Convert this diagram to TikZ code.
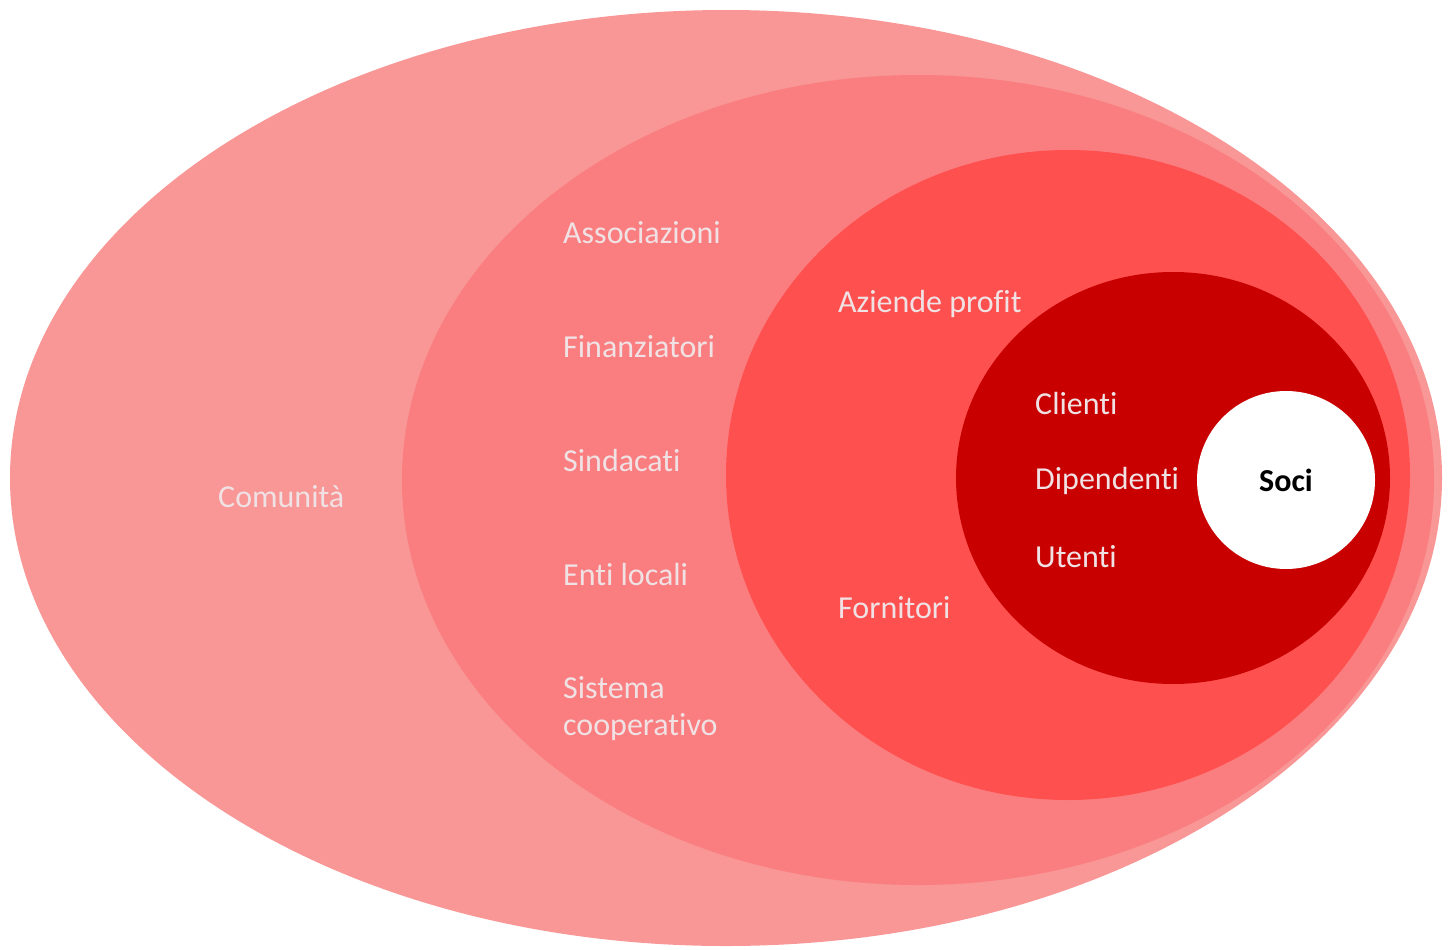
\documentclass[tikz,border=0pt]{standalone}
\usepackage{fontspec}
\setmainfont[Ligatures=NoCommon]{Carlito}
\usetikzlibrary{positioning}

\definecolor{comunita}{RGB}{249,150,150}
\definecolor{secondo}{RGB}{250,126,128}
\definecolor{terzo}{RGB}{255,80,80}
\definecolor{interno}{RGB}{200,0,0}
\definecolor{testo}{RGB}{240,226,228}

\begin{document}
\begin{tikzpicture}[x=1pt,y=-1pt,node distance=114pt]
  \tikzstyle{every node}=[font=\fontsize{32}{37}\selectfont]
  \tikzstyle{voce}=[anchor=west, inner sep=0pt, text=testo, align=left]

  \useasboundingbox (0,0) rectangle (1456,950);

  \fill[comunita] (726,478) ellipse [x radius=716pt, y radius=468pt];
  \fill[secondo]  (918,480) ellipse [x radius=516pt, y radius=405pt];
  \fill[terzo]    (1068,475) ellipse [x radius=342pt, y radius=325pt];
  \fill[interno]  (1173,478) ellipse [x radius=217pt, y radius=206pt];

  \node[circle, fill=white, minimum size=178pt, inner sep=0pt,
        font=\fontsize{32}{37}\selectfont\bfseries]  (soci) at (1286,480) {Soci};

  \node[voce] (comunitalbl)  at (218,497) {Comunità};

  \node[voce] (associazioni) at (563,233)                              {Associazioni};
  \node[voce] (finanziatori) [below=of associazioni.west, anchor=west] {Finanziatori};
  \node[voce] (sindacati)    [below=of finanziatori.west, anchor=west] {Sindacati};
  \node[voce] (entilocali)   [below=of sindacati.west, anchor=west]    {Enti locali};
  \node[voce] (sistema)      [below=134pt of entilocali.west, anchor=west] {Sistema\\cooperativo};

  \node[voce] (aziende)      at (838,304)                              {Aziende profit};
  \node[voce] (fornitori)    [below=304pt of aziende.west, anchor=west] {Fornitori};

  \node[voce] (clienti)      at (1035,404)                             {Clienti};
  \node[voce] (dipendenti)   [below=77pt of clienti.west, anchor=west] {Dipendenti};
  \node[voce] (utenti)       [below=76pt of dipendenti.west, anchor=west] {Utenti};
\end{tikzpicture}
\end{document}
